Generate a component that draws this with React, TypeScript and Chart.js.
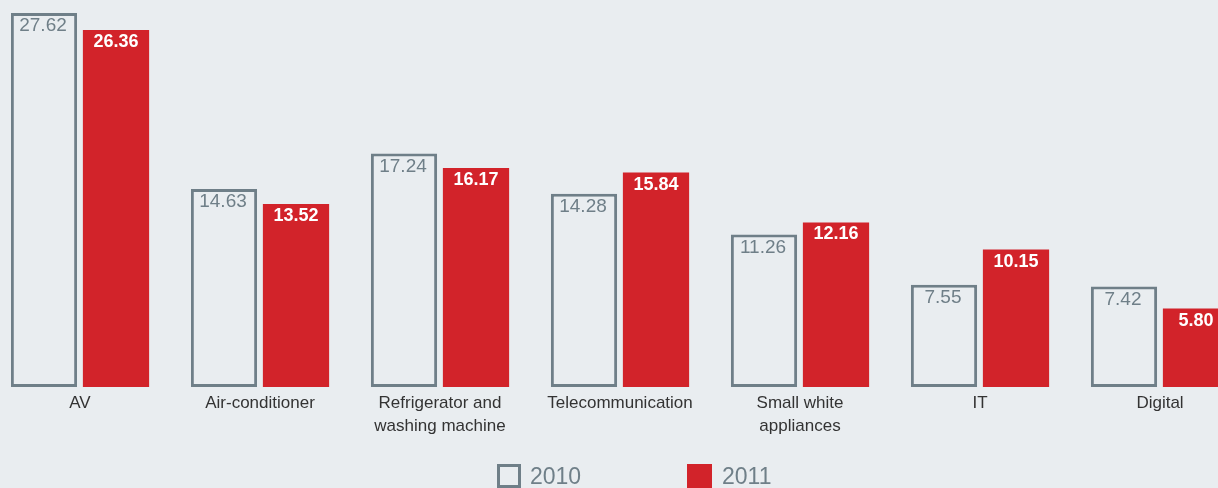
import React, { useEffect, useRef } from 'react';
import { Chart, registerables } from 'chart.js';

Chart.register(...registerables);

const categories: string[][] = [
  ['AV'],
  ['Air-conditioner'],
  ['Refrigerator and', 'washing machine'],
  ['Telecommunication'],
  ['Small white', 'appliances'],
  ['IT'],
  ['Digital'],
];
const seriesNames = ['2010', '2011'];
const values2010 = [27.62, 14.63, 17.24, 14.28, 11.26, 7.55, 7.42];
const values2011 = [26.36, 13.52, 16.17, 15.84, 12.16, 10.15, 5.8];

const BG = '#e9edf0';
const GRAY = '#6f7f88';
const RED = '#d2232a';
const FONT = '"Liberation Sans", Arial, sans-serif';

const valueLabels = {
  id: 'valueLabels',
  afterDatasetsDraw(chart: any) {
    const ctx = chart.ctx;
    chart.data.datasets.forEach((ds: any, di: number) => {
      const meta = chart.getDatasetMeta(di);
      meta.data.forEach((bar: any, i: number) => {
        const v = ds.data[i] as number;
        ctx.save();
        ctx.textAlign = 'center';
        ctx.textBaseline = 'alphabetic';
        if (di === 0) {
          ctx.font = `19px ${FONT}`;
          ctx.fillStyle = GRAY;
          ctx.fillText(v.toFixed(2), bar.x - 1, bar.y + 18);
        } else {
          ctx.font = `bold 18px ${FONT}`;
          ctx.fillStyle = '#ffffff';
          ctx.fillText(v.toFixed(2), bar.x, bar.y + 17);
        }
        ctx.restore();
      });
    });
  },
};

export default function App() {
  const ref = useRef<HTMLCanvasElement | null>(null);

  useEffect(() => {
    if (!ref.current) return;
    const chart = new Chart(ref.current, {
      type: 'bar',
      data: {
        labels: categories,
        datasets: [
          {
            label: seriesNames[0],
            data: values2010,
            backgroundColor: BG,
            borderColor: GRAY,
            borderWidth: 3,
            borderSkipped: false,
            categoryPercentage: 0.8,
            barPercentage: 0.92,
          },
          {
            label: seriesNames[1],
            data: values2011,
            backgroundColor: RED,
            borderWidth: 0,
            categoryPercentage: 0.8,
            barPercentage: 0.92,
          },
        ],
      },
      options: {
        responsive: false,
        animation: false,
        layout: { padding: { top: 0, left: 0, right: 0, bottom: 45 } },
        plugins: {
          legend: { display: false },
          tooltip: { enabled: false },
        },
        scales: {
          x: {
            grid: { display: false, drawTicks: false },
            border: { display: false },
            ticks: {
              color: '#333333',
              padding: 5,
              font: { family: FONT, size: 17, lineHeight: 1.35 },
              maxRotation: 0,
              autoSkip: false,
            },
          },
          y: {
            display: false,
            min: 0,
            max: 28.58,
          },
        },
      },
      plugins: [valueLabels],
    });
    return () => chart.destroy();
  }, []);

  const legendText: React.CSSProperties = {
    position: 'absolute',
    top: 465,
    fontFamily: FONT,
    fontSize: 23,
    lineHeight: 1,
    color: GRAY,
  };

  return (
    <div
      style={{
        position: 'fixed',
        left: 0,
        top: 0,
        width: 1218,
        height: 488,
        overflow: 'hidden',
        background: BG,
      }}
    >
      <canvas
        ref={ref}
        width={1260}
        height={488}
        style={{ position: 'absolute', left: -10, top: 0, width: 1260, height: 488 }}
      />
      <div
        style={{
          position: 'absolute',
          left: 497,
          top: 464,
          width: 24,
          height: 24,
          boxSizing: 'border-box',
          border: `3px solid ${GRAY}`,
          background: BG,
        }}
      />
      <div style={{ ...legendText, left: 530 }}>{seriesNames[0]}</div>
      <div
        style={{
          position: 'absolute',
          left: 687,
          top: 464,
          width: 25,
          height: 24,
          background: RED,
        }}
      />
      <div style={{ ...legendText, left: 722 }}>{seriesNames[1]}</div>
    </div>
  );
}
